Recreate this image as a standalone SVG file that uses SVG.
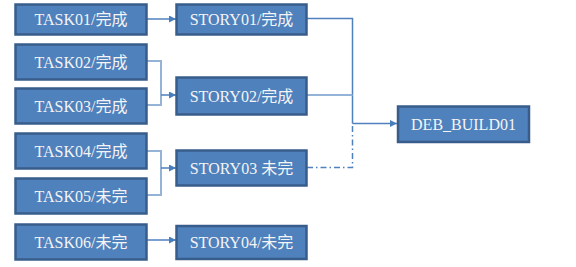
<svg xmlns="http://www.w3.org/2000/svg" width="576" height="267" viewBox="0 0 576 267">
<defs>
<style>
.box{fill:#4f81bd;stroke:#385d8a;stroke-width:2.5}
.lbl{font-family:"Liberation Serif","Noto Sans CJK SC",serif;font-size:16px;fill:#f4f4f4;text-anchor:middle;dominant-baseline:central}
.ln{fill:none;stroke:#4f81bd;stroke-width:1.5}
.lt{fill:none;stroke:#95b3d7;stroke-width:2}
.dd{fill:none;stroke:#4f81bd;stroke-width:1.5;stroke-dasharray:6 3 1.5 3}
</style>
<marker id="ah" viewBox="0 0 10 10" refX="10" refY="5" markerWidth="7" markerHeight="7" markerUnits="userSpaceOnUse" orient="auto">
<path d="M0,0 L10,5 L0,10 z" fill="#4a7ebb"/>
</marker>
</defs>
<g id="connectors">
<path class="ln" d="M147,19 H176" marker-end="url(#ah)"/>
<path class="lt" d="M147,61 H161 V105 H147"/>
<path class="ln" d="M161,95 H176" marker-end="url(#ah)"/>
<path class="lt" d="M147,151 H161 V195 H147"/>
<path class="ln" d="M161,168 H176" marker-end="url(#ah)"/>
<path class="ln" d="M147,240 H176" marker-end="url(#ah)"/>
<path class="ln" d="M307,18.5 H352.5 V123.5"/>
<path class="lt" d="M307,95 H352.5"/>
<path class="dd" d="M307,167.5 H352.5 V126"/>
<path class="ln" d="M352.5,123.5 H397" marker-end="url(#ah)"/>
</g>
<g id="task01"><rect class="box" x="15.5" y="4.5" width="131" height="30"/><text class="lbl" x="81" y="19.5">TASK01/完成</text></g>
<g id="task02"><rect class="box" x="15.5" y="44.5" width="131" height="35"/><text class="lbl" x="81" y="62">TASK02/完成</text></g>
<g id="task03"><rect class="box" x="15.5" y="88.5" width="131" height="35"/><text class="lbl" x="81" y="106">TASK03/完成</text></g>
<g id="task04"><rect class="box" x="15.5" y="133.5" width="131" height="35"/><text class="lbl" x="81" y="151">TASK04/完成</text></g>
<g id="task05"><rect class="box" x="15.5" y="178.5" width="131" height="35"/><text class="lbl" x="81" y="196">TASK05/未完</text></g>
<g id="task06"><rect class="box" x="15.5" y="224.5" width="131" height="35"/><text class="lbl" x="81" y="242">TASK06/未完</text></g>
<g id="story01"><rect class="box" x="176.5" y="4.5" width="130" height="30"/><text class="lbl" x="241.5" y="19.5">STORY01/完成</text></g>
<g id="story02"><rect class="box" x="176.5" y="77.5" width="130" height="37"/><text class="lbl" x="241.5" y="96">STORY02/完成</text></g>
<g id="story03"><rect class="box" x="176.5" y="150.5" width="130" height="35"/><text class="lbl" x="241.5" y="168">STORY03 未完</text></g>
<g id="story04"><rect class="box" x="176.5" y="226" width="130" height="33"/><text class="lbl" x="241.5" y="242.5">STORY04/未完</text></g>
<g id="deb_build01"><rect class="box" x="398" y="106.5" width="131" height="35.5"/><text class="lbl" x="463.5" y="124.5">DEB_BUILD01</text></g>
</svg>
